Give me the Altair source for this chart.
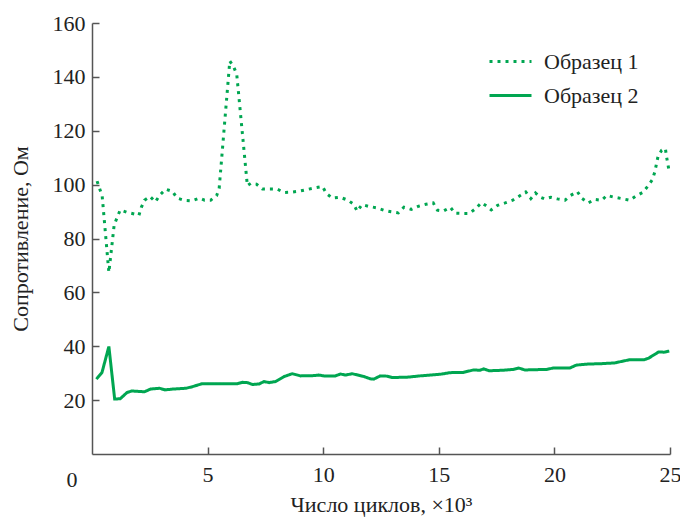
import altair as alt
import pandas as pd

# Образец 1 (dotted)
x1 = [0.22, 0.33, 0.44, 0.73, 0.96, 1.09, 1.22, 1.52, 1.84, 2.03, 2.13, 2.27, 2.51, 2.74, 2.94,
      3.19, 3.48, 3.68, 3.98, 4.32, 4.64, 4.87, 5.13, 5.39, 5.50, 5.96, 6.12, 6.26, 6.72, 6.87,
      7.11, 7.37, 7.99, 8.30, 8.62, 8.97, 9.31, 9.64, 9.97, 10.14, 10.39, 10.73, 11.05, 11.32,
      11.47, 11.68, 11.98, 12.31, 12.62, 12.94, 13.25, 13.49, 13.81, 14.13, 14.44, 14.76, 14.94,
      15.20, 15.50, 15.70, 16.02, 16.32, 16.61, 16.84, 17.06, 17.27, 17.54, 17.87, 18.20, 18.49,
      18.76, 18.98, 19.18, 19.38, 19.58, 19.84, 20.13, 20.46, 20.70, 20.99, 21.19, 21.47, 21.74,
      22.04, 22.27, 22.60, 22.92, 23.25, 23.53, 23.82, 24.04, 24.24, 24.34, 24.48, 24.64, 24.80,
      24.85, 24.97]
y1 = [101.3, 98.5, 95.8, 67.4, 85.1, 87.8, 90.6, 89.7, 89.1, 88.6, 91.5, 94.2, 95.6, 93.6, 96.2,
      98.3, 97.5, 95.0, 94.2, 94.0, 95.0, 94.2, 94.2, 95.9, 98.6, 145.9, 143.9, 141.0, 99.6, 100.5,
      100.2, 98.4, 98.4, 97.1, 97.2, 97.6, 98.2, 98.8, 99.3, 96.7, 95.0, 95.3, 94.3, 92.7,
      90.1, 92.6, 91.9, 91.4, 90.5, 89.9, 89.5, 91.6, 90.8, 92.0, 92.7, 93.2, 90.5,
      90.2, 91.6, 89.4, 89.3, 89.3, 91.2, 93.3, 92.1, 90.6, 92.3, 93.2, 94.2, 95.8,
      97.3, 94.8, 96.9, 95.4, 94.7, 95.3, 94.7, 94.2, 96.0, 97.4, 94.9, 93.2, 94.5,
      94.2, 96.0, 95.3, 94.8, 94.2, 95.8, 97.1, 99.4, 101.9, 104.6, 110.4, 112.8, 113.4,
      110.4, 104.6]

# Образец 2 (solid)
x2 = [0.19, 0.43, 0.73, 0.98, 1.22, 1.51, 1.72, 2.27, 2.53, 2.92, 3.16, 3.49, 4.07, 4.35, 4.76,
      6.29, 6.51, 6.72, 6.94, 7.23, 7.44, 7.66, 7.94, 8.30, 8.66, 9.02, 9.60, 9.81, 10.03, 10.53,
      10.75, 10.96, 11.25, 11.75, 12.04, 12.19, 12.47, 12.76, 12.97, 13.62, 14.19, 15.06, 15.49,
      16.06, 16.50, 16.78, 16.95, 17.17, 17.79, 18.22, 18.46, 18.72, 19.66, 19.94, 20.66, 20.95,
      21.45, 21.95, 22.60, 23.25, 23.89, 24.08, 24.51, 24.75, 24.97]
y2 = [27.8, 30.2, 39.9, 20.4, 20.5, 22.8, 23.4, 23.1, 24.1, 24.4, 23.8, 24.1, 24.4, 25.0, 26.1,
      26.1, 26.6, 26.5, 25.8, 26.0, 26.9, 26.5, 26.9, 28.7, 29.8, 29.0, 29.1, 29.3, 29.0, 29.0,
      29.7, 29.3, 29.8, 28.8, 27.9, 27.8, 29.0, 28.9, 28.4, 28.5, 29.0, 29.6, 30.2,
      30.3, 31.2, 31.1, 31.6, 30.9, 31.1, 31.4, 31.9, 31.2, 31.4, 31.9, 31.9, 33.0,
      33.4, 33.5, 33.8, 35.0, 35.0, 35.6, 37.9, 37.8, 38.2]

series_names = ["Образец 1", "Образец 2"]
x_ticks = [5, 10, 15, 20, 25]
y_ticks = [20, 40, 60, 80, 100, 120, 140, 160]

rows = []
for i, (a, b) in enumerate(zip(x1, y1)):
    rows.append({"x": a, "y": b, "s": series_names[0], "o": i})
for i, (a, b) in enumerate(zip(x2, y2)):
    rows.append({"x": a, "y": b, "s": series_names[1], "o": i})
df = pd.DataFrame(rows)

GREEN = "#00A651"
FONT = "Liberation Serif, Times New Roman, serif"
FS = 22

xscale = alt.Scale(domain=[0, 25], nice=False, zero=False)
yscale = alt.Scale(domain=[0, 160], nice=False)

lines = alt.Chart(df).mark_line(color=GREEN, strokeWidth=3, strokeCap="butt").encode(
    x=alt.X("x:Q", scale=xscale, axis=alt.Axis(
        values=x_ticks, title="Число циклов, ×10³", grid=False,
        labelFont=FONT, labelFontSize=FS, labelColor="#222",
        titleFont=FONT, titleFontSize=FS, titleFontWeight="normal", titleColor="#222",
        domainColor="#555", domainWidth=1.5, tickColor="#555", tickWidth=1.5,
        tickSize={"expr": "-7"}, labelPadding=17, titlePadding=9, labelFlush=False)),
    y=alt.Y("y:Q", scale=yscale, axis=alt.Axis(
        values=y_ticks, title="Сопротивление, Ом", grid=False,
        labelFont=FONT, labelFontSize=FS, labelColor="#222",
        titleFont=FONT, titleFontSize=FS, titleFontWeight="normal", titleColor="#222",
        domainColor="#555", domainWidth=1.5, tickColor="#555", tickWidth=1.5,
        tickSize={"expr": "-7"}, labelPadding=14, titlePadding=20, labelFlush=False)),
    strokeDash=alt.StrokeDash("s:N", scale=alt.Scale(domain=series_names, range=[[3, 5], [1, 0]]),
                              legend=alt.Legend(
                                  title=None, orient="none", legendX=396, legendY=16,
                                  symbolType="stroke", symbolSize=1764, symbolStrokeWidth=3,
                                  symbolStrokeColor=GREEN, labelFont=FONT, labelFontSize=FS,
                                  labelColor="#222", labelOffset=11,
                                  rowPadding={"expr": "-7"}, padding=0)),
    order="o:Q",
)

origin = alt.Chart(pd.DataFrame({"x": [0], "y": [0], "t": ["0"]})).mark_text(
    font=FONT, fontSize=FS, color="#222", dx=-20, dy=26, baseline="middle", align="center"
).encode(x=alt.X("x:Q", scale=xscale), y=alt.Y("y:Q", scale=yscale), text="t:N")

chart = alt.layer(lines, origin).properties(
    width=578, height=431,
    autosize=alt.AutoSizeParams(type="none"),
    padding={"left": 84, "top": 15, "right": 10, "bottom": 65},
).configure_view(stroke=None)

chart.save("out.html", embed_options={"renderer": "svg", "actions": False})
